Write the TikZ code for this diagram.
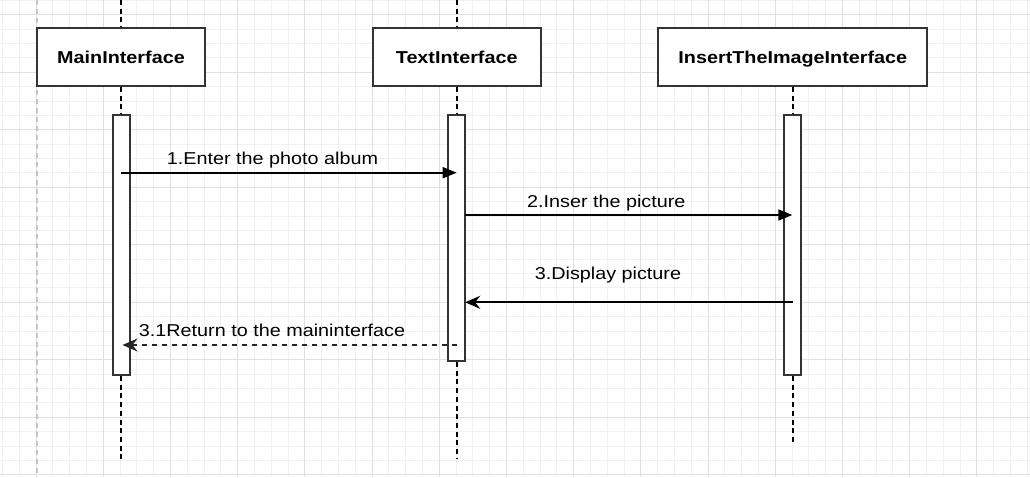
\documentclass[tikz,border=0pt]{standalone}
\usepackage{fontspec}
\setmainfont{Liberation Sans}[FakeStretch=1.15]
\usetikzlibrary{arrows.meta}
\begin{document}
\begin{tikzpicture}[x=1pt,y=-1pt,
  minorgrid/.style={draw=gray!12, line width=1pt},
  majorgrid/.style={draw=gray!24, line width=1pt},
  pageline/.style={draw=gray!45, line width=1.5pt, dash pattern=on 5pt off 4pt},
  obj/.style={draw=black!80, line width=2pt, fill=white, minimum height=57.7pt, inner sep=0pt,
    text height=12.5pt, text depth=0pt, font=\fontsize{17.2}{20}\selectfont\bfseries},
  actbar/.style={draw=black!80, line width=2pt, fill=white, minimum width=17pt, inner sep=0pt, anchor=north},
  life/.style={draw=black, line width=2pt, dash pattern=on 5pt off 3.7pt},
  msg/.style={draw=black, line width=1.7pt},
  retmsg/.style={draw=black!85, line width=1.6pt, dash pattern=on 5pt off 5pt},
  blocktip/.style={-{Triangle[length=14pt,width=11pt]}},
  classictip/.style={-{Stealth[length=15pt,width=13pt,inset=5pt]}},
  lbl/.style={anchor=base, inner sep=0pt, font=\fontsize{17.2}{20}\selectfont}]
\useasboundingbox (0,0) rectangle (1030,477);
\fill[white] (0,0) rectangle (1030,477);
% grid
\foreach \k in {-2,...,59} \draw[minorgrid] ({36+\k*16.8},0) -- ({36+\k*16.8},477);
\foreach \k in {-1,...,32} \draw[minorgrid] (0,{14.8+\k*14.375}) -- (1030,{14.8+\k*14.375});
\foreach \k in {0,...,14} \draw[majorgrid] ({36+\k*67.2},0) -- ({36+\k*67.2},477);
\foreach \k in {0,...,8} \draw[majorgrid] (0,{14.8+\k*57.5}) -- (1030,{14.8+\k*57.5});
\draw[pageline] (37,0) -- (37,477);
% objects
\node[obj, minimum width=168.3pt] (A) at (121,57.2) {MainInterface};
\node[obj, minimum width=168.3pt] (B) at (456.7,57.2) {TextInterface};
\node[obj, minimum width=269pt] (C) at (792.8,57.2) {InsertTheImageInterface};
% lifeline coordinates
\coordinate (Atop) at (121,0);
\coordinate (Btop) at (456.7,0);
\coordinate (Aend) at (121,459);
\coordinate (Bend) at (456.7,459);
\coordinate (Cend) at (792.8,445);
% activation bars
\node[actbar, minimum height=259.7pt] (Abar) at (121,114.3) {};
\node[actbar, minimum height=245.7pt] (Bbar) at (456.7,114.3) {};
\node[actbar, minimum height=259.7pt] (Cbar) at (792.8,114.3) {};
% lifelines
\draw[life] (Atop) -- (A.north);
\draw[life] (Btop) -- (B.north);
\draw[life] (A.south) -- (Abar.north);
\draw[life] (B.south) -- (Bbar.north);
\draw[life] (C.south) -- (Cbar.north);
\draw[life] (Abar.south) -- (Aend);
\draw[life] (Bbar.south) -- (Bend);
\draw[life] (Cbar.south) -- (Cend);
% message end points
\coordinate (m1a) at (121,172.7);
\coordinate (m1b) at (456.7,172.7);
\coordinate (m2a) at (465.2,215);
\coordinate (m2b) at (792.3,215);
\coordinate (m3a) at (792.8,302.3);
\coordinate (m3b) at (465.2,302.3);
\coordinate (m4a) at (456.7,345);
\coordinate (m4b) at (122.5,345);
% messages
\draw[msg, blocktip] (m1a) -- (m1b);
\draw[msg, blocktip] (m2a) -- (m2b);
\draw[msg, classictip] (m3a) -- (m3b);
\draw[retmsg, classictip] (m4a) -- (m4b);
% labels
\node[lbl] (l1) at (272.5,164) {1.Enter the photo album};
\node[lbl] (l2) at (606.3,207.3) {2.Inser the picture};
\node[lbl] (l3) at (608,279.3) {3.Display picture};
\node[lbl] (l4) at (272,336) {3.1Return to the maininterface};
\end{tikzpicture}
\end{document}
